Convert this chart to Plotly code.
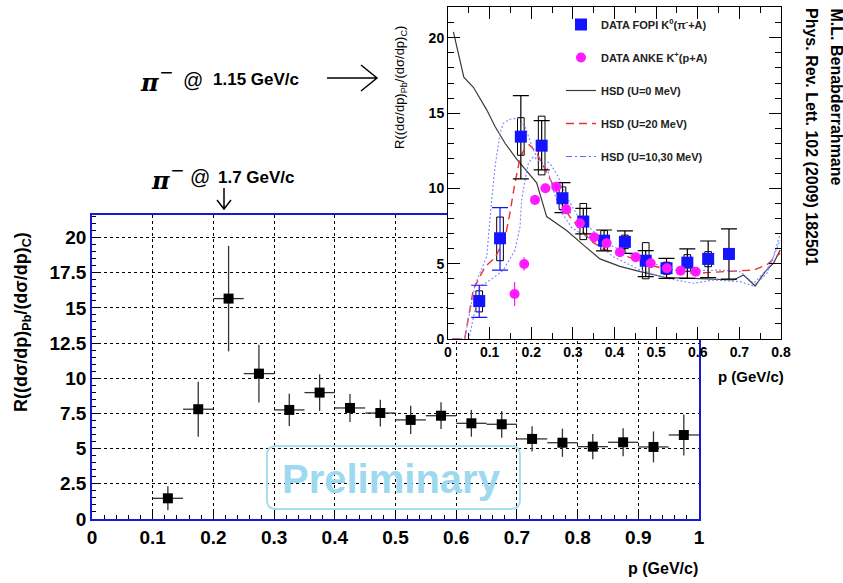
import plotly.graph_objects as go

W, H = 843, 583

# ---------------- main panel: K production ratio, pi- at 1.7 GeV/c ----------------
p_main = [0.125, 0.175, 0.225, 0.275, 0.325, 0.375, 0.425, 0.475, 0.525,
          0.575, 0.625, 0.675, 0.725, 0.775, 0.825, 0.875, 0.925, 0.975]
r_main = [1.47, 7.8, 15.66, 10.33, 7.75, 8.98, 7.89, 7.53, 7.04,
          7.34, 6.8, 6.73, 5.69, 5.42, 5.14, 5.45, 5.12, 5.97]
r_main_err = [0.85, 1.95, 3.75, 2.05, 1.15, 1.3, 1.0, 0.95, 1.0,
              0.95, 0.95, 0.95, 0.9, 1.0, 0.9, 1.0, 1.1, 1.45]
p_main_halfbin = 0.025

# ---------------- inset: pi- at 1.15 GeV/c, FOPI / ANKE / HSD ----------------
fopi_p = [0.075, 0.125, 0.175, 0.225, 0.275, 0.325, 0.375, 0.425, 0.475,
          0.525, 0.575, 0.625, 0.675]
fopi_r = [2.52, 6.69, 13.44, 12.84, 9.35, 7.8, 6.53, 6.45, 5.2,
          4.7, 5.07, 5.32, 5.65]
fopi_stat_lo = [1.44, 4.58, 10.63, 11.23, 8.39, 6.98, 5.85, 5.69, 4.14,
                4.03, 4.03, 4.07, 3.97]
fopi_stat_hi = [3.57, 8.73, 16.17, 14.5, 10.39, 8.68, 7.24, 7.18, 5.87,
                5.36, 5.98, 6.51, 7.31]
fopi_sys_lo = [1.8, 5.2, 12.2, 10.9, 8.6, 6.6, 5.9, 6.0, 4.0, 4.3, 4.5, 4.8, 5.3]
fopi_sys_hi = [3.2, 8.1, 14.7, 14.8, 10.1, 9.0, 7.2, 6.9, 6.4, 5.1, 5.6, 5.8, 6.0]
fopi_blue_caps = 2  # first points carry blue error caps

anke_p = [0.160, 0.183, 0.209, 0.234, 0.260, 0.284, 0.317, 0.351, 0.381,
          0.413, 0.451, 0.487, 0.526, 0.559, 0.595]
anke_r = [2.99, 4.98, 9.24, 10.01, 10.12, 8.61, 7.69, 6.76, 6.36,
          5.76, 5.43, 5.03, 4.7, 4.54, 4.47]
anke_err = [0.8, 0.45, 0.3, 0.3, 0.3, 0.3, 0.3, 0.3, 0.3,
            0.3, 0.3, 0.3, 0.3, 0.3, 0.3]

hsd_u0_p = [0.013, 0.038, 0.061, 0.093, 0.113, 0.137, 0.165, 0.193, 0.213,
            0.237, 0.285, 0.325, 0.365, 0.413, 0.462, 0.526, 0.590, 0.686,
            0.710, 0.738, 0.762, 0.782, 0.798]
hsd_u0_r = [20.4, 17.39, 16.72, 15.22, 14.11, 13.0, 11.94, 11.01, 10.37,
            8.13, 7.21, 6.25, 5.32, 4.82, 4.47, 4.07, 4.03, 3.92,
            4.25, 3.52, 4.47, 5.03, 5.91]

hsd_u20_p = [0.01, 0.04, 0.061, 0.089, 0.113, 0.137, 0.149, 0.161, 0.173,
             0.185, 0.195, 0.213, 0.225, 0.241, 0.257, 0.277, 0.293, 0.321,
             0.349, 0.381, 0.413, 0.454, 0.494, 0.526, 0.558, 0.590, 0.622,
             0.654, 0.686, 0.734, 0.766, 0.798]
hsd_u20_r = [0.0, 0.0, 3.3, 4.8, 5.4, 6.7, 8.4, 10.4, 12.0,
             12.7, 12.9, 12.4, 11.7, 10.9, 10.0, 8.8, 8.1, 7.2,
             6.4, 5.9, 5.65, 5.25, 4.85, 4.63, 4.47, 4.36, 4.41,
             4.47, 4.54, 4.58, 4.92, 5.7]

hsd_u10_p = [0.01, 0.04, 0.065, 0.093, 0.105, 0.113, 0.125, 0.133, 0.149,
             0.169, 0.185, 0.205, 0.213, 0.245, 0.265, 0.285, 0.313, 0.349,
             0.381, 0.430, 0.478, 0.542, 0.590, 0.654, 0.702, 0.734, 0.766,
             0.782, 0.798]
hsd_u10_r = [0.0, 0.0, 3.6, 5.47, 9.24, 11.45, 13.67, 14.33, 14.6,
             14.66, 14.1, 12.56, 12.11, 11.67, 10.78, 9.45, 8.1, 7.2,
             6.36, 5.69, 5.14, 4.58, 4.54, 4.58, 4.47, 3.7, 4.6,
             5.47, 7.0]

hsd_u30_p = [0.01, 0.05, 0.077, 0.113, 0.133, 0.153, 0.161, 0.173, 0.177,
             0.185, 0.193, 0.205, 0.237, 0.253, 0.269, 0.297, 0.349, 0.397,
             0.462, 0.526, 0.590, 0.638, 0.702, 0.734, 0.766, 0.798]
hsd_u30_r = [0.0, 0.0, 3.47, 4.14, 4.58, 5.47, 5.91, 7.46, 9.24,
             10.56, 11.67, 12.11, 11.45, 9.9, 8.57, 7.4, 6.5, 5.47,
             4.58, 4.03, 3.7, 3.92, 3.81, 3.52, 4.36, 6.58]


def fx(px):
    return px / W


def fy(py):
    return 1 - py / H


SANS = "Liberation Sans, Arial, sans-serif"
SERIF = "DejaVu Serif, serif"
MAIN_BLUE = "#1717d6"
FOPI_BLUE = "#1414ff"
ANKE_MAGENTA = "#ff1aff"
BAND_BLUE = "#7a86ff"

fig = go.Figure()

# ---- main panel points ----
fig.add_trace(go.Scatter(
    x=p_main, y=r_main, mode="markers", xaxis="x", yaxis="y", showlegend=False,
    marker=dict(symbol="square", size=10, color="black"),
    error_x=dict(type="constant", value=p_main_halfbin, width=0, thickness=1.3, color="#333"),
    error_y=dict(type="data", array=r_main_err, width=0, thickness=1.3, color="#333"),
))

# ---- inset: systematic boxes ----
fig.add_trace(go.Bar(
    x=fopi_p, y=[h - l for h, l in zip(fopi_sys_hi, fopi_sys_lo)], base=fopi_sys_lo,
    width=0.016, xaxis="x2", yaxis="y2", showlegend=False,
    marker=dict(color="rgba(0,0,0,0)", line=dict(color="black", width=1)),
))

# ---- inset: HSD transport calculations ----
fig.add_trace(go.Scatter(
    x=hsd_u0_p, y=hsd_u0_r, mode="lines", xaxis="x2", yaxis="y2",
    name="HSD (U=0 MeV)", legendgroup="u0", legendrank=3,
    line=dict(color="#3a3a3a", width=1.2),
))
fig.add_trace(go.Scatter(
    x=hsd_u20_p, y=hsd_u20_r, mode="lines", xaxis="x2", yaxis="y2",
    name="HSD (U=20 MeV)", legendgroup="u20", legendrank=4,
    line=dict(color="#f03030", width=1.4, dash="8px,5px"),
))
fig.add_trace(go.Scatter(
    x=hsd_u10_p, y=hsd_u10_r, mode="lines", xaxis="x2", yaxis="y2",
    showlegend=False, legendgroup="u1030",
    line=dict(color=BAND_BLUE, width=1.1, dash="2px,2px"),
))
fig.add_trace(go.Scatter(
    x=hsd_u30_p, y=hsd_u30_r, mode="lines", xaxis="x2", yaxis="y2",
    showlegend=False, legendgroup="u1030",
    line=dict(color=BAND_BLUE, width=1.1, dash="2px,2px"),
))
# legend key for the U=10,30 MeV band
fig.add_trace(go.Scatter(
    x=[None], y=[None], mode="lines", xaxis="x2", yaxis="y2",
    name="HSD (U=10,30 MeV)", legendgroup="u1030", legendrank=5,
    line=dict(color="#5a6cff", width=1.2, dash="6px,3px,2px,3px"),
))

# ---- inset: FOPI K0 data ----
stat_plus = [h - r for h, r in zip(fopi_stat_hi, fopi_r)]
stat_minus = [r - l for r, l in zip(fopi_r, fopi_stat_lo)]
n = fopi_blue_caps
fig.add_trace(go.Scatter(
    x=fopi_p[n:], y=fopi_r[n:], mode="markers", xaxis="x2", yaxis="y2",
    name="DATA FOPI K<sup>0</sup>(π<sup>-</sup>+A)", legendgroup="fopi", legendrank=1,
    marker=dict(symbol="square", size=12, color=FOPI_BLUE),
    error_y=dict(type="data", array=stat_plus[n:], arrayminus=stat_minus[n:],
                 width=8, thickness=1.2, color="black"),
))
fig.add_trace(go.Scatter(
    x=fopi_p[:n], y=fopi_r[:n], mode="markers", xaxis="x2", yaxis="y2",
    showlegend=False, legendgroup="fopi",
    marker=dict(symbol="square", size=12, color=FOPI_BLUE),
    error_y=dict(type="data", array=stat_plus[:n], arrayminus=stat_minus[:n],
                 width=8, thickness=1.2, color=FOPI_BLUE),
))

# ---- inset: ANKE K+ data ----
fig.add_trace(go.Scatter(
    x=anke_p, y=anke_r, mode="markers", xaxis="x2", yaxis="y2",
    name="DATA ANKE K<sup>+</sup>(p+A)", legendgroup="anke", legendrank=2,
    marker=dict(symbol="circle", size=10, color=ANKE_MAGENTA),
    error_y=dict(type="data", array=anke_err, width=0, thickness=1.2, color=ANKE_MAGENTA),
))

# ---- axes ----
main_tick = dict(family=SANS, size=19, color="black", weight="bold")
inset_tick = dict(family=SANS, size=14, color="black", weight="bold")

fig.update_layout(
    width=W, height=H,
    margin=dict(l=0, r=0, t=0, b=0, autoexpand=False),
    paper_bgcolor="white", plot_bgcolor="white",
    showlegend=True,
    legend=dict(
        x=fx(561), y=fy(10), xanchor="left", yanchor="top",
        bgcolor="rgba(0,0,0,0)", borderwidth=0,
        font=dict(family=SANS, size=11, color="#222", weight="bold"),
        tracegroupgap=14, itemwidth=30,
    ),
    xaxis=dict(
        domain=[fx(92), fx(699)], anchor="y", range=[0, 1], dtick=0.1, automargin=False,
        showline=True, linecolor=MAIN_BLUE, linewidth=1.5, mirror=True,
        ticks="inside", ticklen=8, tickcolor="black", tickwidth=1,
        minor=dict(dtick=0.02, ticks="inside", ticklen=4, tickcolor="black", showgrid=False),
        showgrid=True, gridcolor="black", griddash="dot", gridwidth=1,
        zeroline=False, tickfont=main_tick,
    ),
    yaxis=dict(
        domain=[fy(519), fy(215)], anchor="x", range=[0, 21.6], dtick=2.5, automargin=False,
        showline=True, linecolor=MAIN_BLUE, linewidth=1.5, mirror=True,
        ticks="inside", ticklen=8, tickcolor="black", tickwidth=1,
        minor=dict(dtick=0.5, ticks="inside", ticklen=4, tickcolor="black", showgrid=False),
        showgrid=True, gridcolor="black", griddash="dot", gridwidth=1,
        zeroline=False, tickfont=main_tick,
    ),
    xaxis2=dict(
        domain=[fx(448), fx(781)], anchor="y2", range=[0, 0.8], dtick=0.1, automargin=False,
        showline=True, linecolor="black", linewidth=1, mirror="ticks",
        ticks="inside", ticklen=12, tickcolor="black",
        minor=dict(dtick=0.05, ticks="inside", ticklen=6, tickcolor="black", showgrid=False),
        showgrid=False, zeroline=False, tickfont=inset_tick,
    ),
    yaxis2=dict(
        domain=[fy(339), fy(7)], anchor="x2", range=[0, 22.05], dtick=5, automargin=False,
        showline=True, linecolor="black", linewidth=1, mirror="ticks",
        ticks="inside", ticklen=12, tickcolor="black",
        minor=dict(dtick=1, ticks="inside", ticklen=6, tickcolor="black", showgrid=False),
        showgrid=False, zeroline=False, tickfont=inset_tick,
    ),
)

# white backing for the inset so the main panel does not show through
fig.add_shape(type="rect", xref="x2 domain", yref="y2 domain", x0=0, x1=1, y0=0, y1=1,
              layer="below", fillcolor="white", line=dict(width=0))

# ---- text ----
ann = []


def text(x, y, s, size, family=SANS, bold=True, color="black", angle=0,
         xanchor="center", yanchor="middle"):
    ann.append(dict(
        x=fx(x), y=fy(y), xref="paper", yref="paper", text=s, showarrow=False,
        textangle=angle, xanchor=xanchor, yanchor=yanchor,
        font=dict(family=family, size=size, color=color,
                  weight="bold" if bold else "normal"),
    ))


# axis titles
text(22, 322, "R((dσ/dp)<sub>Pb</sub>/(dσ/dp)<sub>C</sub>)", 18, angle=-90)
text(700, 568, "p (GeV/c)", 16, xanchor="right")
text(401, 88, "R((dσ/dp)<sub>Pb</sub>/(dσ/dp)<sub>C</sub>)", 13, bold=False, angle=-90)
text(786, 376, "p (GeV/c)", 15, xanchor="right")

# beam labels
text(149, 82, "<i>π</i>", 24, family=SERIF)
text(166, 72, "−", 22, bold=False)
text(193, 80, "@", 20, bold=False)
text(211, 80, "1.15 GeV/c", 17, xanchor="left")
text(160, 180, "<i>π</i>", 24, family=SERIF)
text(177, 170, "−", 22, bold=False)
text(200, 177, "@", 20, bold=False)
text(216, 177, "1.7 GeV/c", 17, xanchor="left")

# reference
text(836, 6, "M.L. Benabderrahmane", 16, angle=90, yanchor="top")
text(811, 6, "Phys. Rev. Lett. 102 (2009) 182501", 16, angle=90, yanchor="top")

# watermark
text(391, 479, "Preliminary", 40, color="#9ddaef")

fig.update_layout(annotations=ann)

# ---- arrows and watermark frame ----
def path(points_groups):
    out = []
    for grp in points_groups:
        for i, (x, y) in enumerate(grp):
            out.append(("M" if i == 0 else "L") + f"{fx(x):.5f},{fy(y):.5f}")
    return " ".join(out)


def rounded_rect(x0, y0, x1, y1, r):
    segs = [
        f"M{fx(x0 + r):.5f},{fy(y0):.5f}",
        f"L{fx(x1 - r):.5f},{fy(y0):.5f}",
        f"Q{fx(x1):.5f},{fy(y0):.5f} {fx(x1):.5f},{fy(y0 + r):.5f}",
        f"L{fx(x1):.5f},{fy(y1 - r):.5f}",
        f"Q{fx(x1):.5f},{fy(y1):.5f} {fx(x1 - r):.5f},{fy(y1):.5f}",
        f"L{fx(x0 + r):.5f},{fy(y1):.5f}",
        f"Q{fx(x0):.5f},{fy(y1):.5f} {fx(x0):.5f},{fy(y1 - r):.5f}",
        f"L{fx(x0):.5f},{fy(y0 + r):.5f}",
        f"Q{fx(x0):.5f},{fy(y0):.5f} {fx(x0 + r):.5f},{fy(y0):.5f}",
        "Z",
    ]
    return " ".join(segs)


fig.add_shape(type="path", xref="paper", yref="paper", layer="above",
              path=path([[(327, 78), (377, 78)], [(361, 65), (377, 78), (361, 91)]]),
              line=dict(color="black", width=1.5))
fig.add_shape(type="path", xref="paper", yref="paper", layer="above",
              path=path([[(224, 188), (224, 209)], [(217, 200), (224, 209), (231, 200)]]),
              line=dict(color="black", width=1.5))
fig.add_shape(type="path", xref="paper", yref="paper", layer="above",
              path=rounded_rect(267, 446, 520, 509, 9),
              line=dict(color="#a6def0", width=2))

fig.write_html("out.html")
